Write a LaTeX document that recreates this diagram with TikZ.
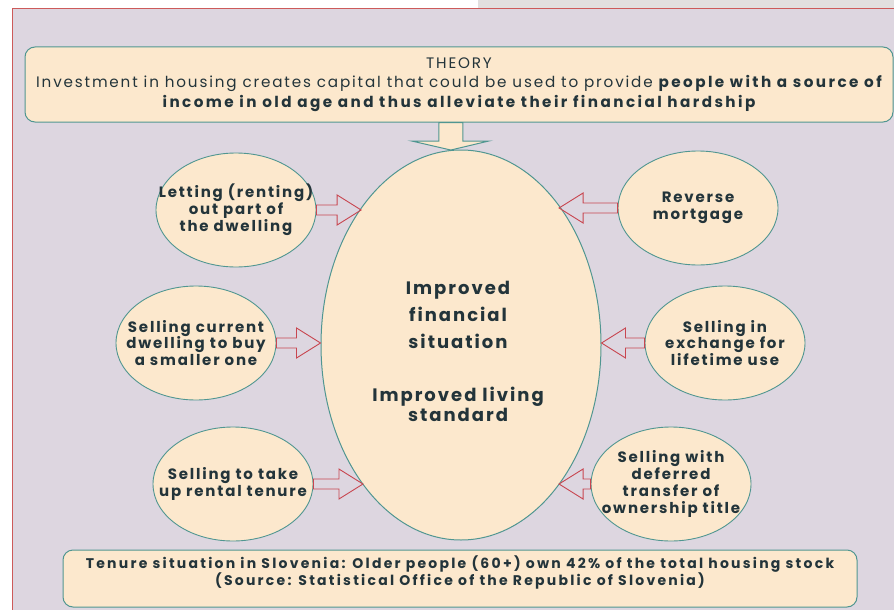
\documentclass[tikz,border=0pt]{standalone}
\usepackage{fontspec}
\setmainfont{Poppins}
\usetikzlibrary{shapes.geometric, calc, positioning}

\definecolor{backlilac}{RGB}{221, 214, 224}
\definecolor{creamfill}{RGB}{252, 232, 205}
\definecolor{tealline}{RGB}{80, 150, 145}
\definecolor{arrowred}{RGB}{200, 70, 80}
\definecolor{framered}{RGB}{205, 90, 90}
\definecolor{topgrey}{RGB}{226, 223, 223}
\definecolor{inkdark}{RGB}{35, 52, 58}

\tikzset{
  infobox/.style={draw=tealline, fill=creamfill, rounded corners=10pt, line width=1pt, align=center, text=inkdark},
  optionoval/.style={ellipse, draw=tealline, fill=creamfill, line width=0.9pt, minimum width=160pt, minimum height=114pt,
    inner xsep=-30pt, inner ysep=-12pt, align=center, text=inkdark,
    font=\fontsize{15}{16.8}\selectfont\bfseries\addfontfeature{LetterSpace=12}},
  pusharrow/.style={draw=arrowred, line width=0.9pt, line join=miter},
  droparrow/.style={draw=tealline, fill=creamfill, line width=1pt, line join=miter},
}

% hollow block arrow from a side oval to the central oval
\newcommand{\blockpush}[2]{%
  \draw[pusharrow] let \p1=(#1), \p2=(#2), \n1={24*sign(\x2-\x1)} in
    (\x1,{\y1+5pt}) -- ({\x2-\n1},{\y1+5pt}) -- ({\x2-\n1},{\y1+15pt}) -- (\x2,\y1)
    -- ({\x2-\n1},{\y1-15pt}) -- ({\x2-\n1},{\y1-5pt}) -- (\x1,{\y1-5pt}) -- cycle;}

\begin{document}
\begin{tikzpicture}[x=1pt, y=-1pt]
  \useasboundingbox (0,0) rectangle (894,610);
  \fill[topgrey] (478,0) rectangle (894,8);
  \draw[framered, fill=backlilac] (12,8) rectangle (900,620);

  % Theory
  \node[infobox, minimum width=868pt, minimum height=75pt, font=\fontsize{15.2}{19.5}\selectfont\addfontfeature{LetterSpace=12}] (theory) at (459,84.5) {
    THEORY\\
    Investment in housing creates capital that could be used to provide {\bfseries\addfontfeature{LetterSpace=16}people with a source of}\\
    {\bfseries\addfontfeature{LetterSpace=16}income in old age and thus alleviate their financial hardship}
  };

  % Outcome
  \node[ellipse, draw=tealline, fill=creamfill, line width=1pt, minimum width=280pt, minimum height=390pt, inner sep=0pt] (impr) at (461,345) {};
  \node[align=center, text=inkdark, font=\fontsize{18}{20}\selectfont\bfseries\addfontfeature{LetterSpace=11}] (imprtext) at ($(impr)+(-3,6)$) {
    Improved\\[7pt]financial\\[7pt]situation\\[33pt]Improved living\\standard
  };

  % Ways to use the dwelling
  \node[optionoval] (letting) at (236,210) {Letting (renting)\\out part of\\the dwelling};
  \node[optionoval] (smaller) at (196,343) {Selling current\\dwelling to buy\\a smaller one};
  \node[optionoval] (rental) at (233,484) {Selling to take\\up rental tenure};
  \node[optionoval] (reverse) at (698,208) {Reverse\\mortgage};
  \node[optionoval] (exchange) at (725,343) {Selling in\\exchange for\\lifetime use};
  \node[optionoval] (deferred) at (671,484) {Selling with\\deferred\\transfer of\\ownership title};

  \blockpush{letting.east}{impr.126}
  \blockpush{smaller.east}{impr.179}
  \blockpush{rental.east}{impr.235}
  \blockpush{reverse.west}{impr.55}
  \blockpush{exchange.west}{impr.0}
  \blockpush{deferred.west}{impr.305}

  \draw[droparrow] let \p1=(theory.south -| impr.93), \p2=(impr.93) in
    ({\x1-12pt},\y1) -- ({\x1-12pt},{\y2+9pt}) -- ({\x1-39pt},{\y2+9pt}) -- (\x2,\y2)
    -- ({\x1+38pt},{\y2+9pt}) -- ({\x1+12pt},{\y2+9pt}) -- ({\x1+12pt},\y1) -- cycle;

  % Tenure
  \node[infobox, minimum width=794pt, minimum height=57pt] (tenure) at (460,578.5) {};
  \node[below=3pt of tenure.north, align=center, text=inkdark, font=\fontsize{14}{17}\selectfont\bfseries\addfontfeature{LetterSpace=16}] (tenuretext) {
    Tenure situation in Slovenia: Older people (60+) own 42\% of the total housing stock\\
    (Source: Statistical Office of the Republic of Slovenia)
  };
\end{tikzpicture}
\end{document}
